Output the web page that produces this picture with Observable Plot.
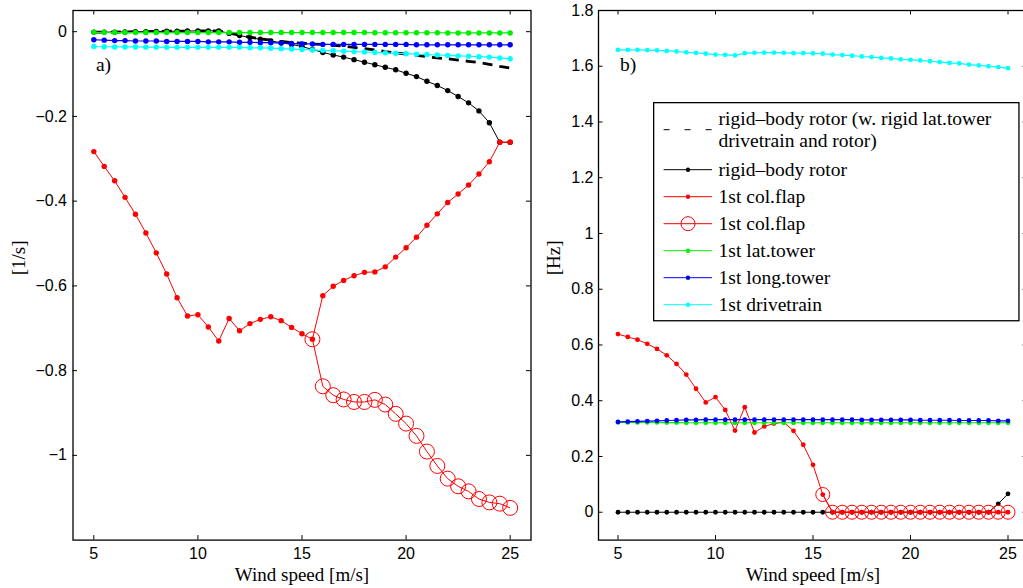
<!DOCTYPE html>
<html>
<head>
<meta charset="utf-8">
<script src="https://cdn.jsdelivr.net/npm/d3@7"></script>
<script src="https://cdn.jsdelivr.net/npm/@observablehq/plot@0.6"></script>
<style>
  html, body { margin: 0; padding: 0; background: #fff; overflow: hidden; }
  #fig { position: relative; width: 1023px; height: 588px; overflow: hidden; background: #fff; }
  #fig > svg, #fig > div { position: absolute; top: 0; }
</style>
</head>
<body>
<div id="fig"></div>
<script>
// Wind speeds of the operating points [m/s]
const windSpeed = [5, 5.5, 6, 6.5, 7, 7.5, 8, 8.5, 9, 9.5, 10, 10.5, 11, 11.5, 12, 12.5, 13, 13.5, 14, 14.5,
  15, 15.5, 16, 16.5, 17, 17.5, 18, 18.5, 19, 19.5, 20, 20.5, 21, 21.5, 22, 22.5, 23, 23.5, 24, 24.5, 25];

// ---- a) damping [1/s] ----
const dampRigidLocked = [-0.001, -0.001, -0.001, -0.0005, 0, 0, 0.0005, 0.001, 0.001, 0.0015, 0.002, 0.002, 0.002,
  -0.003, -0.008, -0.013, -0.017, -0.020, -0.023, -0.026, -0.027, -0.029, -0.030, -0.032, -0.034, -0.037, -0.040,
  -0.043, -0.047, -0.050, -0.053, -0.056, -0.059, -0.062, -0.064, -0.067, -0.070, -0.073, -0.077, -0.082, -0.086];
const dampRigid = [-0.001, -0.001, -0.001, -0.0005, 0, 0, 0.0005, 0.001, 0.001, 0.0015, 0.002, 0.002, 0.002,
  -0.004, -0.009, -0.014, -0.018, -0.022, -0.026, -0.030, -0.035, -0.042, -0.049, -0.055, -0.060, -0.066, -0.072,
  -0.078, -0.084, -0.090, -0.098, -0.106, -0.117, -0.127, -0.139, -0.153, -0.168, -0.187, -0.215, -0.261, -0.261];
const dampFlap = [-0.283, -0.318, -0.352, -0.391, -0.431, -0.475, -0.522, -0.572, -0.628, -0.671, -0.668, -0.697,
  -0.730, -0.677, -0.706, -0.689, -0.679, -0.673, -0.682, -0.698, -0.713, -0.726, -0.623, -0.601, -0.587, -0.576,
  -0.568, -0.567, -0.555, -0.532, -0.510, -0.485, -0.457, -0.430, -0.403, -0.383, -0.362, -0.336, -0.307, -0.261, -0.261];
const dampFlap2 = [null, null, null, null, null, null, null, null, null, null, null, null, null, null, null, null,
  null, null, null, null, null, -0.726, -0.837, -0.858, -0.868, -0.874, -0.874, -0.869, -0.880, -0.902, -0.925,
  -0.954, -0.991, -1.025, -1.055, -1.073, -1.085, -1.103, -1.111, -1.114, -1.124];
const dampLat = [-0.0015, -0.0015, -0.002, -0.002, -0.002, -0.002, -0.002, -0.002, -0.002, -0.002, -0.002, -0.002,
  -0.002, -0.002, -0.002, -0.002, -0.002, -0.002, -0.002, -0.002, -0.002, -0.002, -0.002, -0.002, -0.002, -0.002,
  -0.002, -0.0025, -0.0025, -0.0025, -0.0025, -0.0025, -0.0025, -0.0025, -0.003, -0.003, -0.003, -0.003, -0.003, -0.003, -0.003];
const dampLong = [-0.019, -0.020, -0.021, -0.021, -0.022, -0.022, -0.022, -0.023, -0.023, -0.023, -0.023, -0.024,
  -0.024, -0.024, -0.025, -0.025, -0.026, -0.026, -0.027, -0.028, -0.029, -0.029, -0.030, -0.030, -0.030, -0.030,
  -0.030, -0.030, -0.030, -0.030, -0.030, -0.031, -0.031, -0.031, -0.031, -0.031, -0.031, -0.031, -0.031, -0.031, -0.031];
const dampDrive = [-0.035, -0.0355, -0.036, -0.036, -0.036, -0.0365, -0.0365, -0.037, -0.037, -0.037, -0.037, -0.037,
  -0.037, -0.037, -0.037, -0.038, -0.038, -0.039, -0.040, -0.041, -0.042, -0.043, -0.044, -0.045, -0.046, -0.047,
  -0.048, -0.049, -0.050, -0.051, -0.052, -0.053, -0.054, -0.055, -0.056, -0.057, -0.058, -0.059, -0.060, -0.062, -0.064];

// ---- b) damped frequency [Hz] ----
const freqRigid = [0, 0, 0, 0, 0, 0, 0, 0, 0, 0, 0, 0, 0, 0, 0, 0, 0, 0, 0, 0, 0, 0, 0, 0, 0, 0, 0, 0, 0, 0, 0, 0,
  0, 0, 0, 0, 0, 0, 0, 0.030, 0.066];
const freqFlap = [0.639, 0.629, 0.619, 0.604, 0.586, 0.563, 0.532, 0.494, 0.443, 0.394, 0.413, 0.367, 0.293, 0.377,
  0.286, 0.308, 0.318, 0.323, 0.292, 0.242, 0.170, 0.0635, 0, 0, 0, 0, 0, 0, 0, 0, 0, 0, 0, 0, 0, 0, 0, 0, 0, 0, 0];
const freqFlap2 = [null, null, null, null, null, null, null, null, null, null, null, null, null, null, null, null,
  null, null, null, null, null, 0.0635, 0, 0, 0, 0, 0, 0, 0, 0, 0, 0, 0, 0, 0, 0, 0, 0, 0, 0, 0];
const freqLat = [0.322, 0.322, 0.322, 0.322, 0.322, 0.3215, 0.3215, 0.321, 0.321, 0.321, 0.321, 0.321, 0.321, 0.321,
  0.321, 0.321, 0.321, 0.321, 0.321, 0.321, 0.321, 0.321, 0.321, 0.321, 0.321, 0.321, 0.321, 0.321, 0.321, 0.321,
  0.321, 0.321, 0.321, 0.321, 0.321, 0.321, 0.321, 0.321, 0.321, 0.321, 0.321];
const freqLong = [0.324, 0.325, 0.326, 0.327, 0.328, 0.329, 0.330, 0.331, 0.331, 0.332, 0.332, 0.332, 0.332, 0.332,
  0.332, 0.332, 0.332, 0.332, 0.332, 0.332, 0.332, 0.332, 0.332, 0.332, 0.332, 0.331, 0.331, 0.331, 0.331, 0.331,
  0.331, 0.330, 0.330, 0.330, 0.330, 0.329, 0.329, 0.329, 0.329, 0.328, 0.328];
const freqDrive = [1.659, 1.659, 1.659, 1.658, 1.657, 1.655, 1.653, 1.650, 1.648, 1.645, 1.642, 1.641, 1.639, 1.647,
  1.648, 1.649, 1.649, 1.648, 1.647, 1.647, 1.646, 1.645, 1.642, 1.640, 1.638, 1.635, 1.633, 1.630, 1.628, 1.625,
  1.623, 1.621, 1.618, 1.615, 1.612, 1.610, 1.606, 1.603, 1.600, 1.597, 1.593];

// Tick values
const xTicks = [5, 10, 15, 20, 25];
const yTicksDamp = [0, -0.2, -0.4, -0.6, -0.8, -1];
const yTicksFreq = [0, 0.2, 0.4, 0.6, 0.8, 1, 1.2, 1.4, 1.6, 1.8];

// Legend entries (one per mode)
const legendLabels = [
  ["rigid–body rotor (w. rigid lat.tower", "drivetrain and rotor)"],
  ["rigid–body rotor"],
  ["1st col.flap"],
  ["1st col.flap"],
  ["1st lat.tower"],
  ["1st long.tower"],
  ["1st drivetrain"]
];

const RED = "#ff0000", GREEN = "#00ee00", BLUE = "#0000ff", CYAN = "#00ffff", BLACK = "#000000";
const SANS = "'Liberation Sans', Arial, Helvetica, sans-serif";
const SERIF = "'Liberation Serif', 'Times New Roman', Times, serif";

const fmt = d => d === 0 ? "0" : (d < 0 ? "\u2212" : "") + Math.abs(d);

const H = 588, TOP = 10, BOTTOM = 48.4, TICK = 4.5;

function panel(o) {
  const innerW = o.width - o.marginLeft - o.marginRight;
  const innerH = H - TOP - BOTTOM;
  const rows = vals => windSpeed.map((x, i) => ({x, y: vals[i]})).filter(d => d.y != null);
  const marks = [];
  for (const s of o.series) {
    const data = rows(s.values);
    marks.push(Plot.line(data, {x: "x", y: "y", stroke: s.color, strokeWidth: s.width ?? 1,
      strokeDasharray: s.dash, strokeLinejoin: "miter", strokeLinecap: "butt"}));
    if (s.marker === "dot") marks.push(Plot.dot(data, {x: "x", y: "y", r: o.dotR, fill: s.color}));
    if (s.marker === "circle") marks.push(Plot.dot(data, {x: "x", y: "y", r: o.circleR, stroke: s.color, strokeWidth: 1}));
  }
  return Plot.plot({
    width: o.width,
    height: H,
    marginLeft: o.marginLeft,
    marginRight: o.marginRight,
    marginTop: TOP,
    marginBottom: BOTTOM,
    style: {fontFamily: SANS, fontSize: "16px", color: "black", background: "transparent", overflow: "visible"},
    x: {domain: [4, 26], ticks: xTicks, tickSize: 0, tickPadding: 8, tickFormat: fmt, label: null},
    y: {domain: o.yDomain, ticks: o.yTicks, tickSize: 0, tickPadding: o.yPad, tickFormat: fmt, label: null},
    marks: [
      ...marks,
      // inward tick marks on all four sides
      Plot.tickX(xTicks, {x: d => d, insetTop: innerH - TICK, stroke: "black", strokeWidth: 1}),
      Plot.tickX(xTicks, {x: d => d, insetBottom: innerH - TICK, stroke: "black", strokeWidth: 1}),
      Plot.tickY(o.yTicks, {y: d => d, insetRight: innerW - TICK, stroke: "black", strokeWidth: 1}),
      Plot.tickY(o.yTicks, {y: d => d, insetLeft: innerW - TICK, stroke: "black", strokeWidth: 1}),
      Plot.frame({stroke: "black", strokeWidth: 1.3}),
      Plot.text([o.tag], {x: () => o.tagAt[0], y: () => o.tagAt[1], text: d => d.label, textAnchor: "start",
        fontFamily: SERIF, fontSize: 19.5, fill: "black"}),
      Plot.text(["Wind speed [m/s]"], {frameAnchor: "bottom", lineAnchor: "middle", dy: 35, text: d => d,
        fontFamily: SERIF, fontSize: 19, fill: "black"}),
      Plot.text([o.yLabel], {frameAnchor: "left", lineAnchor: "middle", dx: o.yLabelDx, rotate: -90, text: d => d,
        fontFamily: SERIF, fontSize: 19, fill: "black"})
    ]
  });
}

const fig = document.getElementById("fig");

const left = panel({
  width: 532, marginLeft: 72.5, marginRight: 1.5,
  yDomain: [-1.2, 0.05], yTicks: yTicksDamp, yPad: 6,
  yLabel: "[1/s]", yLabelDx: -54,
  tag: {label: "a)"}, tagAt: [5.1, -0.079],
  dotR: 2.7, circleR: 7.5,
  series: [
    {values: dampRigidLocked, color: BLACK, width: 2.8, dash: "10,7"},
    {values: dampRigid, color: BLACK, marker: "dot"},
    {values: dampFlap, color: RED, marker: "dot"},
    {values: dampFlap2, color: RED, marker: "circle"},
    {values: dampLat, color: GREEN, width: 1.2, marker: "dot"},
    {values: dampLong, color: BLUE, width: 1.2, marker: "dot"},
    {values: dampDrive, color: CYAN, width: 1.2, marker: "dot"}
  ]
});
left.style.left = "0px";
fig.appendChild(left);

const right = panel({
  width: 497, marginLeft: 66, marginRight: 2,
  yDomain: [-0.1, 1.8], yTicks: yTicksFreq, yPad: 5,
  yLabel: "[Hz]", yLabelDx: -45,
  tag: {label: "b)"}, tagAt: [5.1, 1.606],
  dotR: 2.4, circleR: 7,
  series: [
    {values: freqRigid, color: BLACK, marker: "dot"},
    {values: freqFlap, color: RED, marker: "dot"},
    {values: freqFlap2, color: RED, marker: "circle"},
    {values: freqLat, color: GREEN, width: 1.2, marker: "dot"},
    {values: freqLong, color: BLUE, width: 1.2, marker: "dot"},
    {values: freqDrive, color: CYAN, width: 1.2, marker: "dot"}
  ]
});
right.style.left = "532px";
fig.appendChild(right);

// Legend box inside panel b)
const legendStyles = [
  {color: BLACK, dash: "6,15", marker: null},
  {color: BLACK, marker: "dot"},
  {color: RED, marker: "dot"},
  {color: RED, marker: "circle"},
  {color: GREEN, marker: "dot"},
  {color: BLUE, marker: "dot"},
  {color: CYAN, marker: "dot"}
];
const LW = 366.6, LH = 219.4;
const legendWrap = document.createElement("div");
legendWrap.style.left = "652.7px";
legendWrap.style.top = "102.3px";
fig.appendChild(legendWrap);
const lg = d3.select(legendWrap).append("svg")
  .attr("width", LW).attr("height", LH)
  .style("display", "block").style("overflow", "visible");
lg.append("rect").attr("x", 0.65).attr("y", 0.65).attr("width", LW - 1.3).attr("height", LH - 1.3)
  .attr("fill", "white").attr("stroke", "black").attr("stroke-width", 1.3);
const swatchY = [27.7, 67.7, 94.7, 121.7, 148.7, 175.7, 202.7];
legendLabels.forEach((lines, i) => {
  const st = legendStyles[i];
  const g = lg.append("g").attr("transform", `translate(0,${swatchY[i]})`);
  g.append("line").attr("x1", 10.6).attr("x2", 59).attr("y1", 0).attr("y2", 0)
    .attr("stroke", st.color).attr("stroke-width", 1).attr("stroke-dasharray", st.dash || null);
  if (st.marker === "dot") g.append("circle").attr("cx", 35).attr("cy", 0).attr("r", 2.2).attr("fill", st.color);
  if (st.marker === "circle") g.append("circle").attr("cx", 35).attr("cy", 0).attr("r", 7).attr("fill", "none")
    .attr("stroke", st.color).attr("stroke-width", 1);
  const first = lines.length > 1 ? -10.85 : 0;
  lines.forEach((t, j) => {
    g.append("text").attr("x", 65.6).attr("y", first + j * 21.7)
      .attr("dominant-baseline", "central")
      .attr("font-family", SERIF).attr("font-size", 19.5).attr("fill", "black")
      .text(t);
  });
});
</script>
</body>
</html>
